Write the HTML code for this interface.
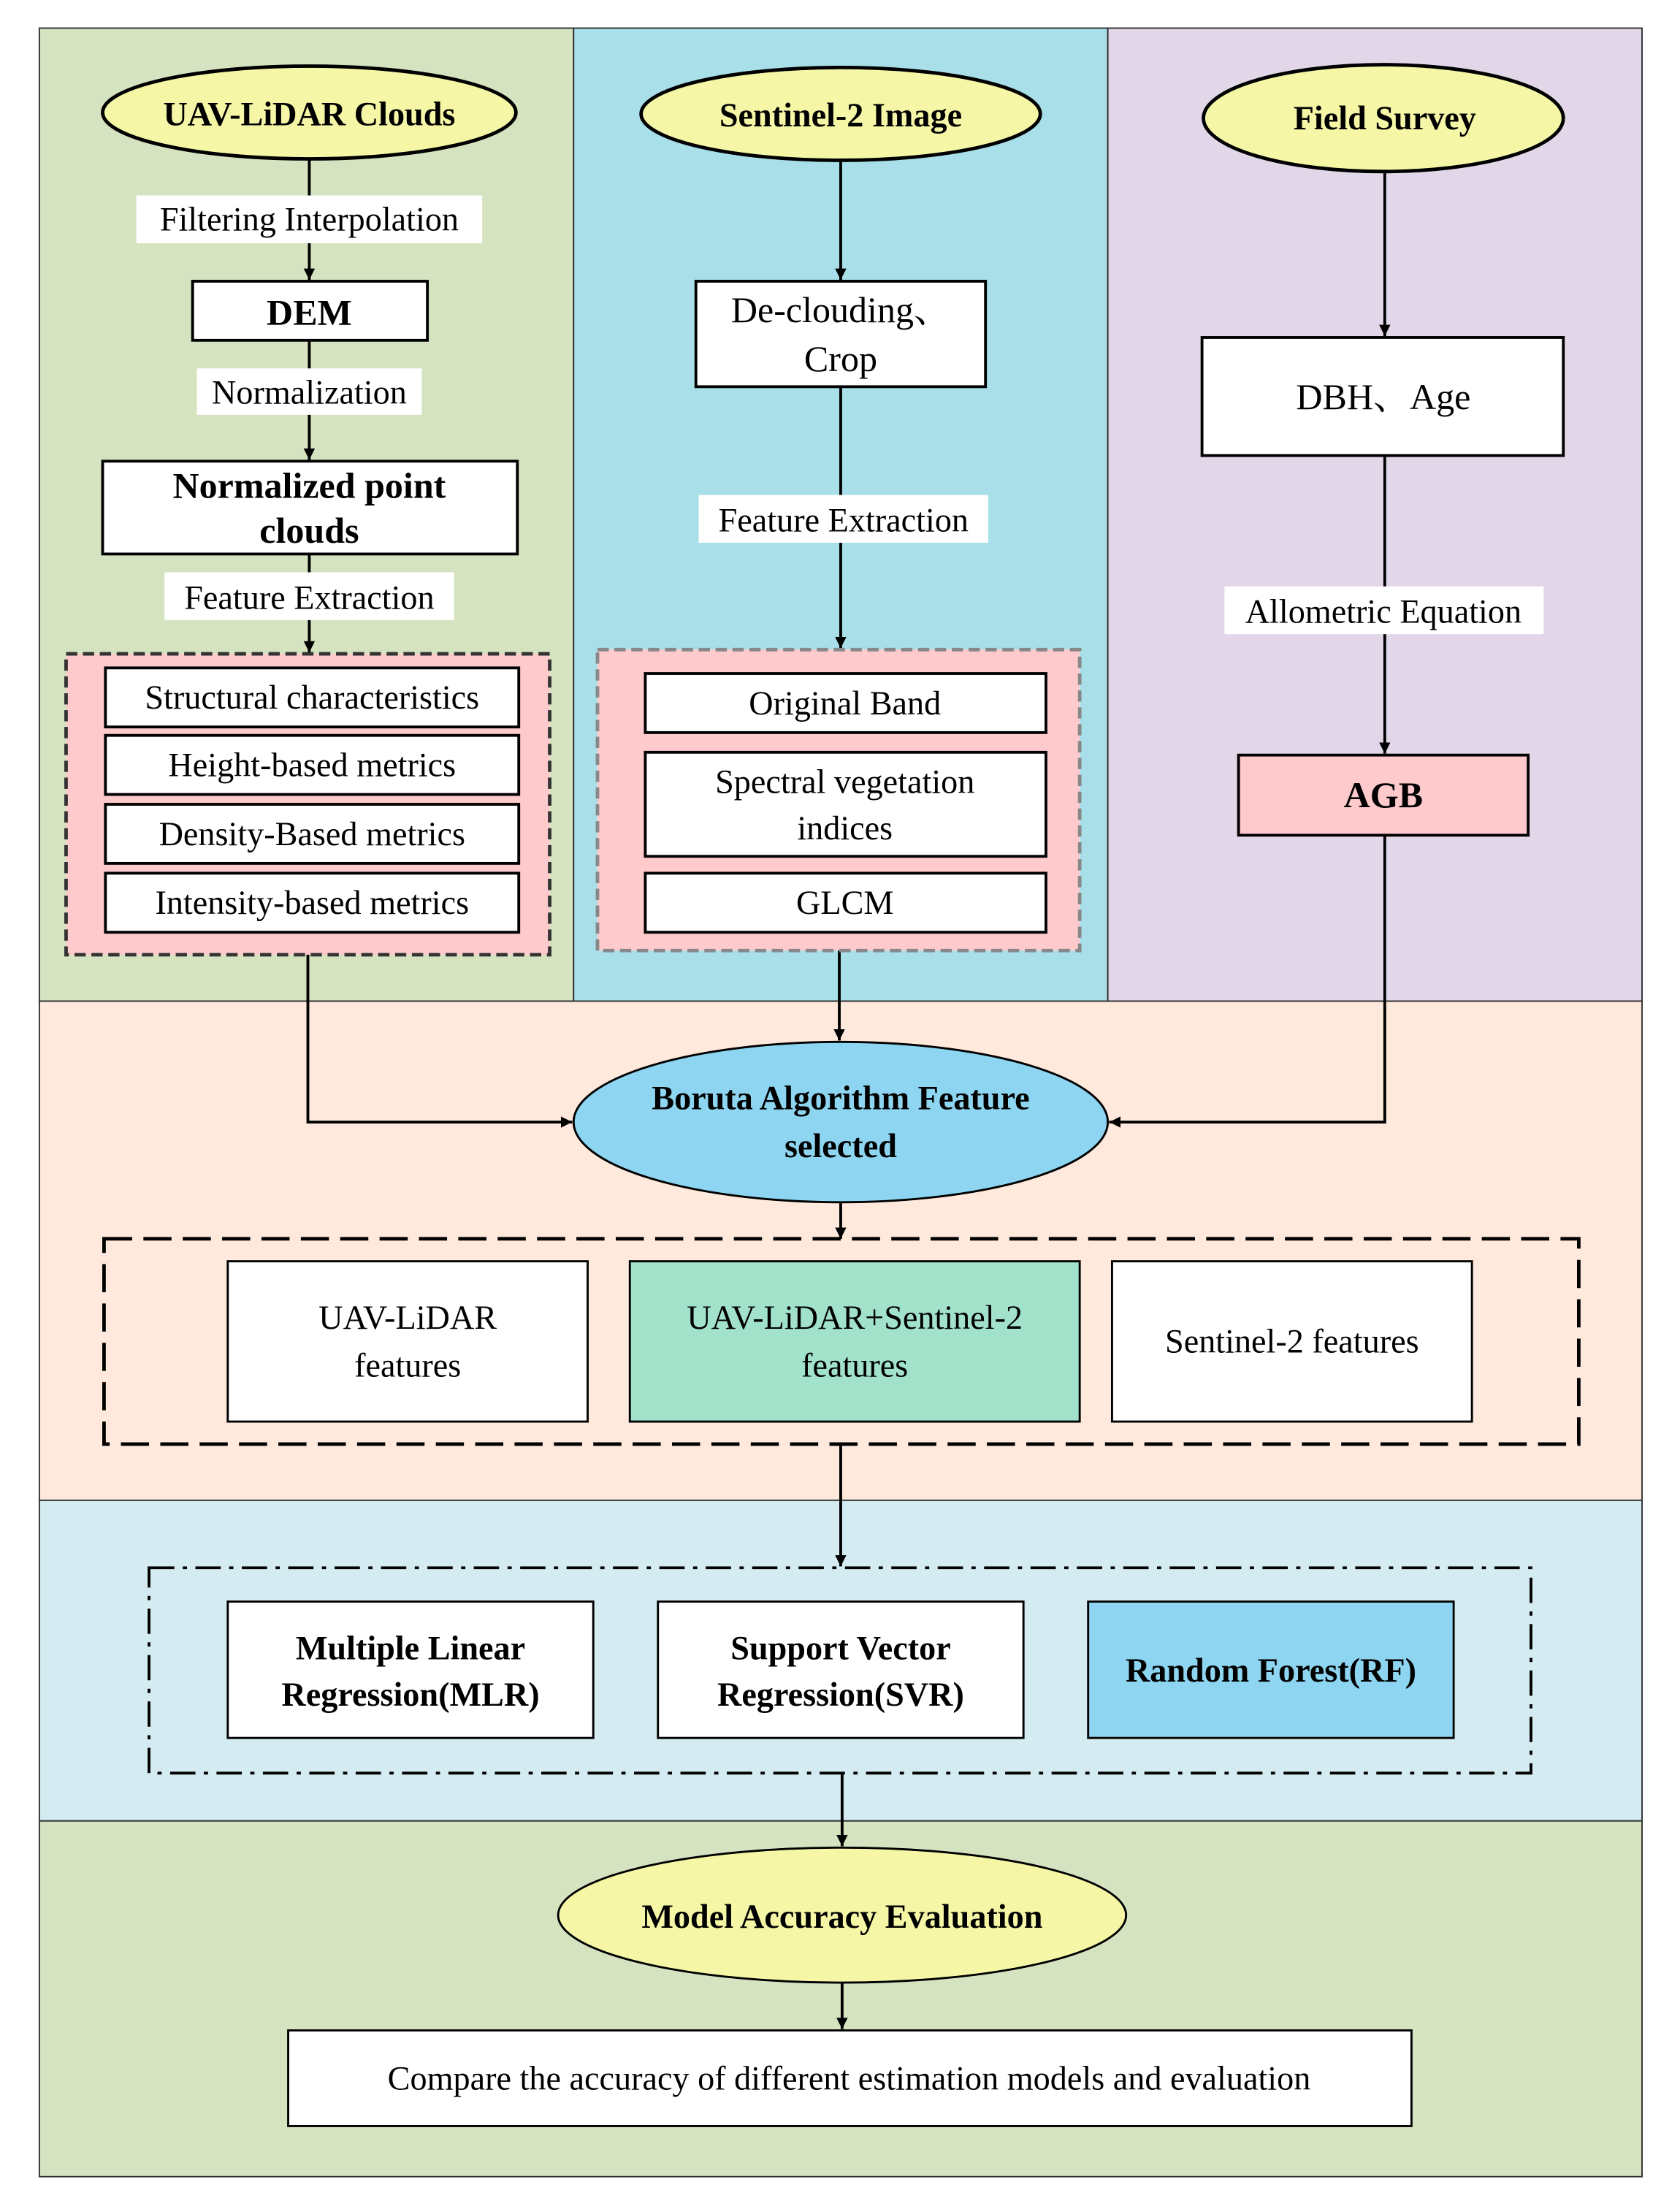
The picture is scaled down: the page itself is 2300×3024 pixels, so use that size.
<!DOCTYPE html>
<html><head><meta charset="utf-8"><style>html,body{margin:0;padding:0;background:#fff}svg{display:block}text{font-family:"Liberation Serif","Times New Roman",Times,serif;fill:#000}.cjk{font-family:"Noto Serif CJK SC","Noto Sans CJK SC",serif}</style></head>
<body>
<svg width="2300" height="3024" viewBox="0 0 1195 1571" preserveAspectRatio="none" xmlns="http://www.w3.org/2000/svg">
<defs><marker id="a" viewBox="0 0 10 10" refX="10" refY="5" markerWidth="8" markerHeight="8" markerUnits="userSpaceOnUse" orient="auto"><path d="M0,0L10,5L0,10z" fill="#000"/></marker></defs>
<g stroke="#333" stroke-width="1">
<rect x="28" y="20" width="380" height="692" fill="#d5e3c0"/>
<rect x="408" y="20" width="380" height="692" fill="#a8dfe9"/>
<rect x="788" y="20" width="380" height="692" fill="#e2d7e8"/>
<rect x="28" y="712" width="1140" height="355" fill="#fee9dc"/>
<rect x="28" y="1067" width="1140" height="228" fill="#d4ecf1"/>
<rect x="28" y="1295" width="1140" height="253" fill="#d5e3c0"/>
</g>
<g stroke="#000" stroke-width="2" fill="none">
<line x1="220" y1="114" x2="220" y2="199" marker-end="url(#a)"/>
<line x1="220" y1="242" x2="220" y2="327" marker-end="url(#a)"/>
<line x1="220" y1="394" x2="220" y2="464" marker-end="url(#a)"/>
<line x1="598" y1="114" x2="598" y2="199" marker-end="url(#a)"/>
<line x1="598" y1="275" x2="598" y2="461" marker-end="url(#a)"/>
<line x1="985" y1="122" x2="985" y2="239" marker-end="url(#a)"/>
<line x1="985" y1="324" x2="985" y2="536" marker-end="url(#a)"/>
<polyline points="219,679 219,798 407,798" marker-end="url(#a)"/>
<line x1="597" y1="676" x2="597" y2="740" marker-end="url(#a)"/>
<polyline points="985,594 985,798 789,798" marker-end="url(#a)"/>
<line x1="598" y1="855" x2="598" y2="881" marker-end="url(#a)"/>
<line x1="598" y1="1027" x2="598" y2="1114" marker-end="url(#a)"/>
<line x1="599" y1="1261" x2="599" y2="1313" marker-end="url(#a)"/>
<line x1="599" y1="1410" x2="599" y2="1443" marker-end="url(#a)"/>
</g>
<g stroke="#000" stroke-width="2.5">
<ellipse cx="220" cy="80" rx="147" ry="33" fill="#f5f7a6"/>
<ellipse cx="598" cy="81" rx="142" ry="33" fill="#f5f7a6"/>
<ellipse cx="984" cy="84" rx="128" ry="38" fill="#f5f7a6"/>
</g>
<ellipse cx="598" cy="798" rx="190" ry="57" fill="#8dd5f0" stroke="#000" stroke-width="1.5"/>
<ellipse cx="599" cy="1362" rx="202" ry="48" fill="#f5f7a6" stroke="#000" stroke-width="1.5"/>
<g fill="#fff">
<rect x="97" y="139" width="246" height="34"/>
<rect x="140" y="262" width="160" height="33"/>
<rect x="117" y="407" width="206" height="34"/>
<rect x="497" y="352" width="206" height="34"/>
<rect x="871" y="417" width="227" height="34"/>
</g>
<g stroke="#000" stroke-width="2">
<rect x="137" y="200" width="167" height="42" fill="#fff"/>
<rect x="73" y="328" width="295" height="66" fill="#fff"/>
<rect x="495" y="200" width="206" height="75" fill="#fff"/>
<rect x="855" y="240" width="257" height="84" fill="#fff"/>
<rect x="881" y="537" width="206" height="57" fill="#fecacc"/>
</g>
<rect x="47" y="465" width="344" height="214" fill="#fecacc" stroke="#333" stroke-width="2.5" stroke-dasharray="8,4"/>
<rect x="425" y="462" width="343" height="214" fill="#fecacc" stroke="#888" stroke-width="2.5" stroke-dasharray="8,4"/>
<g stroke="#000" stroke-width="2" fill="#fff">
<rect x="75" y="475" width="294" height="42"/>
<rect x="75" y="523" width="294" height="42"/>
<rect x="75" y="572" width="294" height="42"/>
<rect x="75" y="621" width="294" height="42"/>
<rect x="459" y="479" width="285" height="42"/>
<rect x="459" y="535" width="285" height="74"/>
<rect x="459" y="621" width="285" height="42"/>
</g>
<rect x="74" y="881" width="1049" height="146" fill="none" stroke="#000" stroke-width="2.5" stroke-dasharray="20,8"/>
<g stroke="#000" stroke-width="1.5">
<rect x="162" y="897" width="256" height="114" fill="#fff"/>
<rect x="448" y="897" width="320" height="114" fill="#a2e2cb"/>
<rect x="791" y="897" width="256" height="114" fill="#fff"/>
</g>
<rect x="106" y="1115" width="983" height="146" fill="none" stroke="#000" stroke-width="2" stroke-dasharray="18,6,3,6"/>
<g stroke="#000" stroke-width="1.5">
<rect x="162" y="1139" width="260" height="97" fill="#fff"/>
<rect x="468" y="1139" width="260" height="97" fill="#fff"/>
<rect x="774" y="1139" width="260" height="97" fill="#8dd5f0"/>
<rect x="205" y="1444" width="799" height="68" fill="#fff"/>
</g>
<g font-size="24" text-anchor="middle">
<text x="220" y="89" font-weight="bold">UAV-LiDAR Clouds</text>
<text x="598" y="90" font-weight="bold">Sentinel-2 Image</text>
<text x="985" y="92" font-weight="bold">Field Survey</text>
<text x="220" y="164">Filtering Interpolation</text>
<text x="220" y="231" font-weight="bold" font-size="26">DEM</text>
<text x="220" y="287">Normalization</text>
<text x="220" y="354" font-weight="bold" font-size="26">Normalized point</text>
<text x="220" y="386" font-weight="bold" font-size="26">clouds</text>
<text x="220" y="433">Feature Extraction</text>
<text x="222" y="504">Structural characteristics</text>
<text x="222" y="552">Height-based metrics</text>
<text x="222" y="601">Density-Based metrics</text>
<text x="222" y="650">Intensity-based metrics</text>
<text x="598" y="229" font-size="26">De-clouding<tspan class="cjk">、</tspan></text>
<text x="598" y="264" font-size="26">Crop</text>
<text x="600" y="378">Feature Extraction</text>
<text x="601" y="508">Original Band</text>
<text x="601" y="564">Spectral vegetation</text>
<text x="601" y="597">indices</text>
<text x="601" y="650">GLCM</text>
<text x="984" y="291" font-size="26">DBH<tspan class="cjk">、</tspan>Age</text>
<text x="984" y="443">Allometric Equation</text>
<text x="984" y="574" font-weight="bold" font-size="26">AGB</text>
<text x="598" y="789" font-weight="bold">Boruta Algorithm Feature</text>
<text x="598" y="823" font-weight="bold">selected</text>
<text x="290" y="945">UAV-LiDAR</text>
<text x="290" y="979">features</text>
<text x="608" y="945">UAV-LiDAR+Sentinel-2</text>
<text x="608" y="979">features</text>
<text x="919" y="962">Sentinel-2 features</text>
<text x="292" y="1180" font-weight="bold">Multiple Linear</text>
<text x="292" y="1213" font-weight="bold">Regression(MLR)</text>
<text x="598" y="1180" font-weight="bold">Support Vector</text>
<text x="598" y="1213" font-weight="bold">Regression(SVR)</text>
<text x="904" y="1196" font-weight="bold">Random Forest(RF)</text>
<text x="599" y="1371" font-weight="bold">Model Accuracy Evaluation</text>
<text x="604" y="1486">Compare the accuracy of different estimation models and evaluation</text>
</g>
</svg>
</body></html>
